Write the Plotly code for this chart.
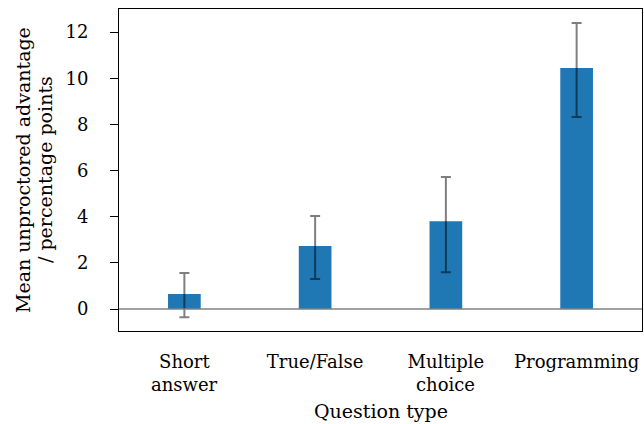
import plotly.graph_objects as go

categories = ["Short answer", "True/False", "Multiple choice", "Programming"]
label_lines = [["Short", "answer"], ["True/False"], ["Multiple", "choice"], ["Programming"]]
means = [0.65, 2.73, 3.81, 10.44]
ci_low = [-0.35, 1.30, 1.60, 8.32]
ci_high = [1.56, 4.03, 5.72, 12.39]
y_ticks = [0, 2, 4, 6, 8, 10, 12]
x_title = "Question type"
y_title_lines = ["Mean unproctored advantage", "/ percentage points"]

err_plus = [h - m for h, m in zip(ci_high, means)]
err_minus = [m - l for m, l in zip(means, ci_low)]

FONT = "DejaVu Serif"
FS_TICK = 18
FS_TITLE = 19

fig = go.Figure()
fig.add_trace(go.Bar(
    x=list(range(len(categories))), y=means, width=0.25,
    marker=dict(color="#1f77b4", line=dict(width=0)),
    error_y=dict(type="data", symmetric=False, array=err_plus, arrayminus=err_minus,
                 color="rgba(0,0,0,0.5)", thickness=2, width=5),
))
fig.add_hline(y=0, line=dict(color="#808080", width=1.5))

# second lines of the two-line category labels
for i, lines in enumerate(label_lines):
    if len(lines) > 1:
        fig.add_annotation(x=i, xref="x", y=0, yref="paper", text=lines[1],
                           showarrow=False, yanchor="top", yshift=-41,
                           font=dict(family=FONT, size=FS_TICK, color="black"))

fig.add_annotation(x=0.5, xref="paper", y=0, yref="paper", text=x_title,
                   showarrow=False, yanchor="top", yshift=-67,
                   font=dict(family=FONT, size=FS_TITLE, color="black"))

for shift, line in zip([-96, -74], y_title_lines):
    fig.add_annotation(x=0, xref="paper", y=0.5, yref="paper", text=line,
                       showarrow=False, textangle=-90, xanchor="center", yanchor="middle",
                       xshift=shift, font=dict(family=FONT, size=FS_TITLE, color="black"))

fig.update_layout(
    width=644, height=424,
    margin=dict(l=119, r=2, t=9, b=93, autoexpand=False),
    plot_bgcolor="white", paper_bgcolor="white",
    showlegend=False,
    font=dict(family=FONT, size=FS_TICK, color="black"),
    xaxis=dict(
        range=[-0.5, 3.5], tickmode="array", tickvals=list(range(len(categories))),
        ticktext=[l[0] for l in label_lines], showgrid=False, zeroline=False,
        showline=True, linecolor="black", linewidth=1, mirror=True,
        ticks="", ticklabelstandoff=14, automargin=False,
    ),
    yaxis=dict(
        range=[-0.95, 13.0], tickvals=y_ticks,
        showgrid=False, zeroline=False,
        showline=True, linecolor="black", linewidth=1, mirror=True,
        ticks="outside", ticklen=8, tickcolor="black", tickwidth=1.2,
        ticklabelstandoff=18, automargin=False,
    ),
)
fig.write_html("out.html", config={"displayModeBar": False},
               post_script="document.body.style.margin='0';")
